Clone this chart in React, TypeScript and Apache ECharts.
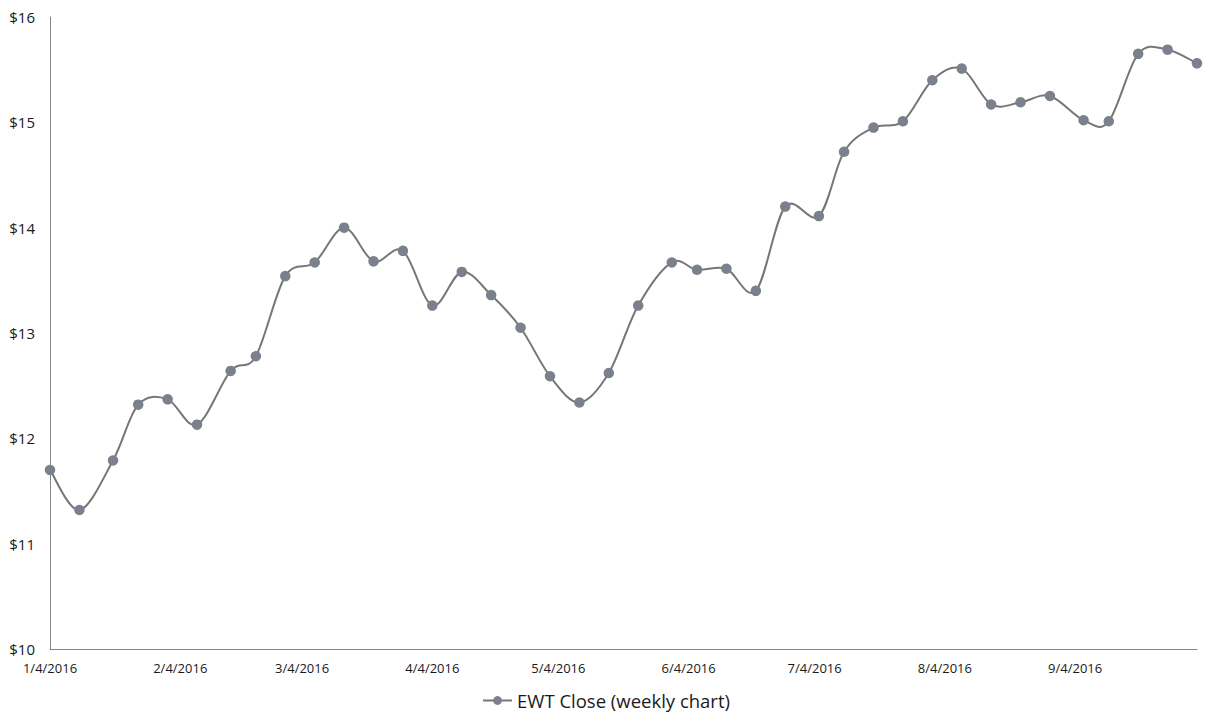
import React, { useEffect, useRef } from "react";
import * as echarts from "echarts";

const weekDates: string[] = [
  "2016-01-04", "2016-01-11", "2016-01-19", "2016-01-25",
  "2016-02-01", "2016-02-08", "2016-02-16", "2016-02-22", "2016-02-29",
  "2016-03-07", "2016-03-14", "2016-03-21", "2016-03-28",
  "2016-04-04", "2016-04-11", "2016-04-18", "2016-04-25",
  "2016-05-02", "2016-05-09", "2016-05-16", "2016-05-23", "2016-05-31",
  "2016-06-06", "2016-06-13", "2016-06-20", "2016-06-27",
  "2016-07-05", "2016-07-11", "2016-07-18", "2016-07-25",
  "2016-08-01", "2016-08-08", "2016-08-15", "2016-08-22", "2016-08-29",
  "2016-09-06", "2016-09-12", "2016-09-19", "2016-09-26",
  "2016-10-03",
];

const closeValues: number[] = [
  11.70, 11.32, 11.79, 12.32,
  12.37, 12.13, 12.64, 12.78, 13.54,
  13.67, 14.00, 13.68, 13.78,
  13.26, 13.58, 13.36, 13.05,
  12.59, 12.34, 12.62, 13.26, 13.67,
  13.60, 13.61, 13.40, 14.20,
  14.11, 14.72, 14.95, 15.01,
  15.40, 15.51, 15.17, 15.19, 15.25,
  15.02, 15.01, 15.65, 15.69,
  15.56,
];

const xTickDates: string[] = [
  "2016-01-04", "2016-02-04", "2016-03-04", "2016-04-04", "2016-05-04",
  "2016-06-04", "2016-07-04", "2016-08-04", "2016-09-04",
];

const seriesName = "EWT Close (weekly chart)";

const DAY = 86400000;
function toUTC(s: string): number {
  const [y, m, d] = s.split("-").map(Number);
  return Date.UTC(y, m - 1, d);
}
const origin = toUTC(weekDates[0]);
function toDay(s: string): number {
  return Math.round((toUTC(s) - origin) / DAY);
}
function dayLabel(day: number): string {
  const d = new Date(origin + day * DAY);
  return `${d.getUTCMonth() + 1}/${d.getUTCDate()}/${d.getUTCFullYear()}`;
}

const LINE_COLOR = "#767676";
const MARKER_COLOR = "#7a818d";

export default function App() {
  const ref = useRef<HTMLDivElement>(null);

  useEffect(() => {
    document.body.style.margin = "0";
    if (!ref.current) return;
    const chart = echarts.init(ref.current, undefined, { renderer: "svg" });
    const font = "Open Sans";
    const points = weekDates.map((d, i) => [toDay(d), closeValues[i]]);
    const segments = points.slice(0, -1);

    const renderSegment = (params: any, api: any) => {
      const i = params.dataIndex;
      const n = points.length;
      const p0 = api.coord(points[Math.max(0, i - 1)]);
      const p1 = api.coord(points[i]);
      const p2 = api.coord(points[i + 1]);
      const p3 = api.coord(points[Math.min(n - 1, i + 2)]);
      const t = 1 / 6;
      return {
        type: "bezierCurve",
        shape: {
          x1: p1[0],
          y1: p1[1],
          cpx1: p1[0] + (p2[0] - p0[0]) * t,
          cpy1: p1[1] + (p2[1] - p0[1]) * t,
          cpx2: p2[0] - (p3[0] - p1[0]) * t,
          cpy2: p2[1] - (p3[1] - p1[1]) * t,
          x2: p2[0],
          y2: p2[1],
        },
        style: { stroke: LINE_COLOR, lineWidth: 2, fill: "none" },
      };
    };

    chart.setOption({
      animation: false,
      backgroundColor: "#ffffff",
      grid: { left: 50, right: 15, top: 17, bottom: 79, containLabel: false },
      legend: {
        bottom: 13,
        left: "center",
        itemWidth: 29,
        itemHeight: 11,
        itemGap: 2,
        data: [seriesName],
        lineStyle: { color: LINE_COLOR, width: 2, opacity: 1 },
        textStyle: { fontFamily: font, fontSize: 18.5, color: "#1a1a1a" },
      },
      xAxis: {
        type: "value",
        min: 0,
        max: toDay(weekDates[weekDates.length - 1]),
        axisLine: { show: true, lineStyle: { color: "#868686", width: 1 } },
        axisTick: { show: false },
        splitLine: { show: false },
        axisLabel: {
          customValues: xTickDates.map(toDay),
          margin: 12,
          fontFamily: font,
          fontSize: 13,
          color: "#1a1a1a",
          formatter: (v: number) => dayLabel(v),
        },
      },
      yAxis: {
        type: "value",
        min: 10,
        max: 16,
        interval: 1,
        axisLine: { show: true, lineStyle: { color: "#868686", width: 1 } },
        axisTick: { show: false },
        splitLine: { show: false },
        axisLabel: {
          margin: 15,
          fontFamily: font,
          fontSize: 15,
          color: "#1a1a1a",
          formatter: (v: number) => `$${v}`,
        },
      },
      series: [
        {
          type: "custom",
          name: "curve",
          data: segments,
          encode: { x: 0, y: 1 },
          renderItem: renderSegment,
          z: 2,
          silent: true,
        },
        {
          name: seriesName,
          type: "line",
          data: points,
          smooth: false,
          symbol: "circle",
          symbolSize: 10.5,
          z: 3,
          lineStyle: { color: LINE_COLOR, width: 2, opacity: 0 },
          itemStyle: { color: MARKER_COLOR },
        },
      ],
    });
    return () => chart.dispose();
  }, []);

  return <div ref={ref} style={{ width: 1212, height: 728 }} />;
}
